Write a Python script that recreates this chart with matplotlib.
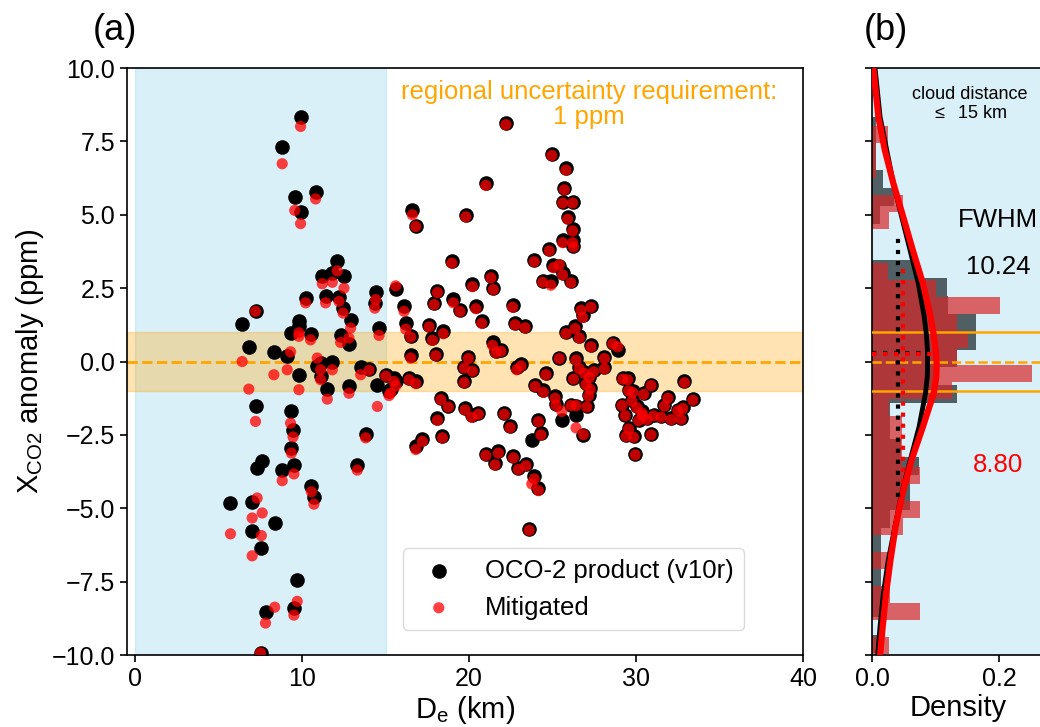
import numpy as np
import matplotlib
matplotlib.use("Agg")
import matplotlib.pyplot as plt

plt.rcParams['font.family'] = ['Liberation Sans', 'DejaVu Sans']
plt.rcParams['mathtext.fontset'] = 'custom'
plt.rcParams['mathtext.rm'] = 'Liberation Sans'
plt.rcParams['mathtext.it'] = 'Liberation Sans'

# ---- panel (a): distance to cloud vs XCO2 anomaly ----
# distance (km), OCO-2 v10r anomaly (ppm), mitigated anomaly (ppm)
dist_km = [
    9.9, 8.8, 9.55, 9.9, 10.8, 12.1, 11.2, 11.8, 12.5, 11.4, 10.2, 12.2, 12.45, 12.9,
    14.4, 14.35, 14.6, 6.4, 7.2, 6.8, 8.3, 9.1, 9.3, 9.8, 9.8, 10.5, 12.3, 12.8,
    11.8, 11.1, 10.9, 9.8, 13.5, 14.0, 15.0, 15.5, 11.1, 11.5, 12.8, 14.5, 15.2, 15.6,
    7.2, 9.3, 9.45, 9.35, 9.5, 8.8, 7.3, 10.55, 10.7, 13.8, 13.3, 5.7, 7.0, 7.6,
    7.0, 7.55, 8.35, 9.7, 9.5, 7.8, 7.5,
    15.6, 16.1, 16.2, 16.5, 16.5, 16.6, 16.8, 17.6, 17.8, 18.45, 18.0, 16.4, 16.8,
    19.8, 18.96, 21.0, 22.2, 24.95, 25.8, 25.7, 25.6, 26.2, 25.9, 26.2, 26.2, 26.25,
    25.6, 24.8, 23.9, 25.05, 25.4, 25.6, 24.4, 24.9, 26.1, 21.3, 21.45, 20.2, 18.1,
    17.9, 19.05, 19.45, 20.4, 22.6, 20.75, 22.75, 23.35, 26.7, 27.3, 26.8, 26.35,
    25.8, 26.6, 27.3, 21.4, 21.6, 21.9, 19.95, 23.1, 22.85, 25.4, 28.6, 28.9, 28.1,
    28.1, 26.4, 26.6, 26.9, 27.2, 27.0, 27.25, 27.15, 27.05, 26.25, 27.45, 26.4,
    26.1, 25.55, 26.4, 26.85, 23.75, 24.3, 24.15, 23.95, 24.45, 24.6, 25.15, 25.2,
    22.1, 22.45, 19.75, 20.15, 20.55, 18.3, 18.75, 18.1, 18.4, 17.2, 16.8, 21.0,
    21.75, 21.55, 22.65, 22.95, 23.4, 23.9, 24.15, 23.6, 15.3, 19.7, 20.2, 19.7,
    29.2, 29.5, 29.15, 29.35, 29.55, 29.8, 29.75, 30.05, 30.35, 30.4, 30.15, 30.65,
    30.45, 30.9, 31.05, 31.5, 31.7, 31.9, 32.1, 32.5, 32.8, 32.7, 32.9, 33.4,
    29.55, 29.85, 30.9, 29.95, 29.4,
]
xco2_oco2 = [
    8.33, 7.31, 5.60, 5.10, 5.77, 3.43, 2.92, 3.00, 2.92, 2.22, 2.16, 2.20, 1.82, 1.40,
    2.37, 2.00, 1.14, 1.29, 1.71, 0.51, 0.31, 0.20, 0.97, 1.39, 1.20, 0.95, 0.91, 0.61,
    0.00, -0.05, -0.15, -0.45, -0.17, -0.25, -0.45, -0.55, -0.50, -0.94, -0.85, -0.79, -1.02, -0.68,
    -1.51, -1.67, -2.32, -2.95, -3.52, -3.69, -3.63, -4.23, -4.60, -2.46, -3.52, -4.82, -4.77, -3.40,
    -5.77, -6.35, -5.50, -7.46, -8.40, -8.55, -9.93,
    2.47, 1.88, 1.33, 0.86, 0.23, 5.17, 4.63, 1.25, 0.80, 1.03, 0.27, -0.56, -0.68,
    5.00, 3.41, 6.08, 8.13, 7.08, 6.59, 5.91, 5.45, 5.42, 4.92, 4.51, 4.14, 3.95,
    4.13, 3.83, 3.47, 3.30, 3.25, 3.00, 2.73, 2.73, 2.73, 2.92, 2.50, 2.65, 2.42,
    2.00, 2.13, 1.76, 1.88, 1.91, 1.37, 1.31, 1.20, 1.82, 1.90, 1.60, 1.20,
    0.99, 0.86, 0.57, 0.65, 0.35, 0.40, 0.17, -0.07, -0.20, 0.12, 0.63, 0.40, 0.17,
    -0.17, 0.12, -0.17, -0.34, -0.51, -0.73, -0.90, -1.13, -1.53, -0.56, -0.28, -1.53,
    -1.47, -1.98, -1.81, -2.49, -2.66, -2.43, -1.98, -0.79, -0.96, -0.39, -1.19, -1.44,
    -1.75, -2.21, -1.58, -1.81, -1.75, -1.24, -1.50, -1.93, -2.53, -2.64, -2.89, -3.14,
    -3.06, -3.46, -3.23, -3.63, -3.48, -3.91, -4.31, -5.70, -0.95, -0.17, -0.28, -0.66,
    -0.56, -0.57, -1.47, -1.81, -0.96, -1.00, -1.30, -1.53, -1.70, -1.81, -1.98, -1.93,
    -1.07, -0.79, -1.81, -1.87, -1.47, -1.21, -1.93, -1.64, -1.55, -1.93, -0.68, -1.28,
    -2.27, -2.53, -2.46, -3.14, -2.50,
]
xco2_mitigated = [
    8.01, 6.74, 5.15, 4.70, 5.54, 3.09, 2.65, 2.70, 2.50, 2.00, 2.00, 2.05, 1.65, 1.14,
    2.11, 1.82, 0.89, 0.00, 1.71, -0.94, -0.45, -0.28, 0.33, 0.86, 0.98, 0.74, 0.65, 0.80,
    -0.28, -0.28, 0.12, -0.96, -0.45, -0.30, -0.50, -0.68, -0.62, -1.28, -1.08, -1.53, -1.16, -0.83,
    -2.04, -2.10, -2.57, -3.12, -3.83, -4.06, -4.65, -4.44, -4.86, -2.60, -3.70, -5.87, -5.33, -5.16,
    -6.62, -5.93, -8.37, -8.17, -8.64, -8.91, -9.93,
    2.58, 1.71, 1.10, 0.83, 0.12, 5.00, 4.60, 1.18, 0.72, 0.95, 0.20, -0.62, -0.75,
    4.93, 3.35, 6.00, 8.07, 7.02, 6.52, 5.85, 5.40, 5.40, 4.85, 4.45, 4.05, 3.90,
    4.05, 3.77, 3.40, 3.20, 3.30, 2.95, 2.70, 2.60, 2.68, 2.85, 2.45, 2.55, 2.35,
    1.94, 2.00, 1.70, 1.80, 1.85, 1.30, 1.25, 1.15, 1.75, 1.85, 1.50, 1.12,
    0.95, 0.80, 0.50, 0.55, 0.30, 0.35, 0.10, -0.15, -0.28, 0.10, 0.60, 0.50, 0.10,
    -0.25, 0.05, -0.25, -0.40, -0.55, -0.78, -0.95, -1.18, -1.55, -0.60, -0.35, -1.50,
    -1.50, -1.70, -2.26, -2.49, -4.17, -2.50, -2.05, -0.85, -1.05, -0.45, -1.25, -1.50,
    -1.80, -2.25, -1.65, -1.90, -1.80, -1.30, -1.55, -2.00, -2.60, -2.72, -3.00, -3.20,
    -3.12, -3.52, -3.28, -3.68, -3.55, -4.00, -4.40, -5.75, -1.07, -0.22, -0.33, -0.72,
    -0.60, -0.62, -1.50, -1.85, -1.00, -1.05, -1.35, -1.58, -1.75, -1.85, -2.02, -1.98,
    -1.12, -0.82, -1.85, -1.90, -1.52, -1.25, -1.98, -1.68, -1.60, -1.97, -0.72, -1.32,
    -2.30, -2.58, -2.50, -3.18, -2.55,
]

# ---- panel (b): histograms (density) for cloud distance <= 15 km ----
oco2_bin_edges = [8.33, 7.72, 7.12, 6.51, 5.90, 5.29, 4.68, 4.07, 3.46, 2.85, 2.24, 1.63, 1.02,
                  0.41, -0.20, -0.81, -1.42, -2.02, -2.63, -3.24, -3.85, -4.46, -5.07, -5.68,
                  -6.29, -6.90, -7.50, -8.11, -8.72, -9.33, -9.94]
oco2_density = [0.006, 0.006, 0.006, 0.018, 0.035, 0.012, 0.0, 0.0, 0.074, 0.118, 0.120,
                0.163, 0.163, 0.134, 0.100, 0.134, 0.029, 0.029, 0.045, 0.074, 0.060, 0.060,
                0.029, 0.014, 0.014, 0.014, 0.014, 0.014, 0.0, 0.014]
mitig_bin_edges = [8.01, 7.43, 6.85, 6.27, 5.69, 5.11, 4.53, 3.95, 3.37, 2.79, 2.21, 1.63, 1.05,
                   0.47, -0.11, -0.69, -1.27, -1.85, -2.43, -3.01, -3.59, -4.17, -4.75, -5.33,
                   -5.91, -6.49, -7.07, -7.65, -8.23, -8.81, -9.39, -9.97]
mitig_density = [0.025, 0.006, 0.006, 0.0, 0.049, 0.027, 0.0, 0.0, 0.025, 0.100, 0.201,
                 0.134, 0.151, 0.134, 0.252, 0.125, 0.026, 0.047, 0.047, 0.047, 0.075, 0.045,
                 0.075, 0.049, 0.0, 0.026, 0.0, 0.029, 0.075, 0.0, 0.026]

# fitted curves (anomaly, density)
fit_y = [10.0, 8.34, 7.21, 6.07, 4.93, 3.80, 2.66, 1.53, 0.90, 0.39, -0.05, -0.52, -1.08,
         -2.22, -3.36, -4.49, -5.63, -6.76, -7.90, -9.03, -10.0]
fit_oco2 = [0.0047, 0.0126, 0.023, 0.0335, 0.0466, 0.0597, 0.0728, 0.0820, 0.0855, 0.087,
            0.0872, 0.0868, 0.084, 0.074, 0.060, 0.0466, 0.036, 0.0256, 0.0178, 0.0126, 0.0089]
fit_mitig = [0.002, 0.0099, 0.020, 0.0335, 0.049, 0.064, 0.080, 0.092, 0.097, 0.100,
             0.1015, 0.1010, 0.097, 0.080, 0.062, 0.048, 0.037, 0.029, 0.022, 0.0168, 0.0126]
fwhm_oco2 = 10.24
fwhm_mitig = 8.80
# half-maximum markers and peak markers
half_oco2, half_oco2_top, half_oco2_bot = 0.041, 4.38, -4.6
half_mitig, half_mitig_top, half_mitig_bot = 0.049, 3.36, -4.13
peak_y_oco2, peak_oco2 = 0.29, 0.087
peak_y_mitig, peak_mitig = 0.25, 0.101

fig = plt.figure(figsize=(10.4, 7.27), dpi=100)
ax1 = fig.add_axes([0.1221, 0.099, 0.650, 0.8074])
ax2 = fig.add_axes([0.8385, 0.099, 0.1652, 0.8074])

ax1.axvspan(0, 15, color='skyblue', alpha=0.3, zorder=0)
ax1.axhspan(-1, 1, color='orange', alpha=0.3, zorder=0)
ax1.axhline(0, color='orange', ls='--', lw=2, zorder=1)
ax1.scatter(dist_km, xco2_oco2, s=90, c='k', label='OCO-2 product (v10r)', zorder=2)
ax1.scatter(dist_km, xco2_mitigated, s=65, c='red', alpha=0.75, edgecolors='none',
            label='Mitigated', zorder=3)
ax1.text(27.2, 8.75, 'regional uncertainty requirement:\n1 ppm', color='orange',
         fontsize=18.5, ha='center', va='center', linespacing=1.05)
ax1.set_xlim(-0.5, 40)
ax1.set_ylim(-10, 10)
ax1.set_yticks(np.arange(-10, 10.1, 2.5))
ax1.set_xticks([0, 10, 20, 30, 40])
ax1.set_xlabel('D$_\\mathrm{e}$ (km)', fontsize=21, labelpad=2)
ax1.set_ylabel('X$_\\mathrm{CO2}$ anomaly (ppm)', fontsize=21)
ax1.legend(loc='lower left', bbox_to_anchor=(0.408, 0.043), borderaxespad=0,
           fontsize=18.5, frameon=True, edgecolor='lightgray')
fig.text(115 / 1040, 1 - 30 / 727, '(a)', fontsize=26, ha='center', va='center')
fig.text(886 / 1040, 1 - 30 / 727, '(b)', fontsize=26, ha='center', va='center')

# panel (b)
ax2.axvspan(0, 0.27, color='skyblue', alpha=0.3, zorder=0)
ax2.barh(oco2_bin_edges[1:], oco2_density, height=np.diff(oco2_bin_edges[::-1])[::-1],
         align='edge', color='#2d3b3f', alpha=0.8, zorder=1)
ax2.barh(mitig_bin_edges[1:], mitig_density, height=np.diff(mitig_bin_edges[::-1])[::-1],
         align='edge', color='tab:red', alpha=0.7, zorder=2)
ax2.axhline(1, color='orange', lw=1.8, zorder=3)
ax2.axhline(-1, color='orange', lw=1.8, zorder=3)
ax2.axhline(0, color='orange', lw=1.8, ls='--', zorder=3)
ax2.plot(fit_oco2, fit_y, color='k', lw=3.5, zorder=4)
ax2.plot(fit_mitig, fit_y, color='red', lw=4.5, zorder=5)
ax2.vlines(half_oco2, half_oco2_bot, half_oco2_top, color='k', lw=3, ls=':', zorder=6)
ax2.vlines(half_mitig, half_mitig_bot, half_mitig_top, color='red', lw=3, ls=':', zorder=6)
ax2.hlines(peak_y_oco2, 0, peak_oco2, color='k', lw=3, ls=':', zorder=6)
ax2.hlines(peak_y_mitig, 0, peak_mitig, color='red', lw=3, ls=':', zorder=6)
ax2.text(0.154, 8.78, 'cloud distance\n$\\leq$  15 km', fontsize=13, ha='center', va='center')
ax2.text(0.198, 4.82, 'FWHM', fontsize=18.5, ha='center', va='center')
ax2.text(0.198, 3.22, '%.2f' % fwhm_oco2, fontsize=18.5, ha='center', va='center')
ax2.text(0.198, -3.53, '%.2f' % fwhm_mitig, fontsize=18.5, color='red', ha='center', va='center')
ax2.set_xlim(0, 0.27)
ax2.set_ylim(-10, 10)
ax2.set_yticks(np.arange(-10, 10.1, 2.5))
ax2.set_yticklabels([])
ax2.set_xticks([0, 0.2])
ax2.set_xticklabels(['0.0', '0.2'])
ax2.set_xlabel('Density', fontsize=21, labelpad=2)

for ax in (ax1, ax2):
    ax.tick_params(labelsize=18, length=5, width=1.2)
    for sp in ax.spines.values():
        sp.set_linewidth(1.2)

fig.savefig('out.png', dpi=100)
